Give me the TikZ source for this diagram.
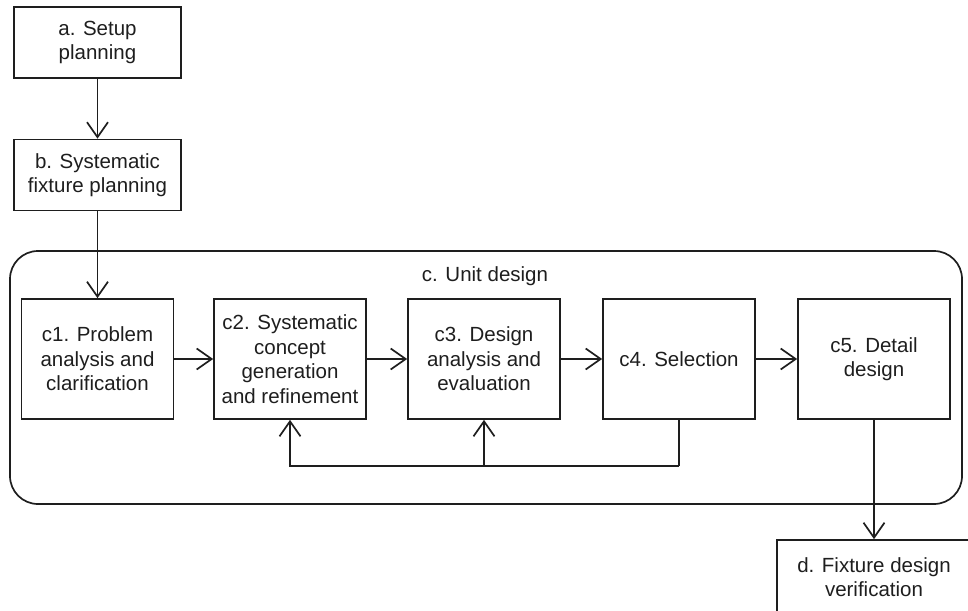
\documentclass[tikz,border=0pt]{standalone}
\usepackage{fontspec}
\setmainfont{Liberation Sans}
\usetikzlibrary{arrows.meta}
\definecolor{ink}{HTML}{1E1E1E}
\begin{document}
\begin{tikzpicture}[x=1pt,y=-1pt,
  line width=1.7pt, draw=ink,
  every node/.style={font=\fontsize{20.5}{24.5}\selectfont, text=ink, align=center, inner sep=0pt},
  stepbox/.style={draw=ink, line width=1.7pt, minimum width=152, minimum height=120},
  smallbox/.style={draw=ink, line width=1.7pt, minimum width=167, minimum height=71},
  flow/.style={-{Straight Barb[length=15pt,width=21pt,line width=1.7pt]}}]
\useasboundingbox (0,0) rectangle (968,610);
\begin{scope}
\clip (0,0) rectangle (968,610);

% unit design container
\draw[rounded corners=28] (10,251) rectangle (962,504);
\node (clabel) at (485,276) {c. Unit design};

% planning steps
\node[smallbox] (a) at (97.5,42.5) {a. Setup\\planning};
\node[smallbox] (b) at (97.5,175) {b. Systematic\\fixture planning};

% unit design steps
\node[stepbox] (c1) at (97.5,359) {c1. Problem\\analysis and\\clarification};
\node[stepbox] (c2) at (290,359) {c2. Systematic\\concept\\generation\\and refinement};
\node[stepbox] (c3) at (484,359) {c3. Design\\analysis and\\evaluation};
\node[stepbox] (c4) at (679,359) {c4. Selection};
\node[stepbox] (c5) at (874,359) {c5. Detail\\design};

% verification (runs past the page edge)
\node[draw=ink, line width=1.7pt, minimum width=200, minimum height=80, text depth=0pt] (d) at (877,580) {};
\node (dtext) at (874,577) {d. Fixture design\\verification};

% main flow
\draw[flow] (a) -- (b);
\draw[flow] (b) -- (c1);
\draw[flow] (c1) -- (c2);
\draw[flow] (c2) -- (c3);
\draw[flow] (c3) -- (c4);
\draw[flow] (c4) -- (c5);
\draw[flow] (c5.south) -- (c5.south |- d.north);

% feedback loop from selection
\coordinate (fb) at (679,466);
\draw (c4.south) -- (fb);
\draw[flow] (fb) -| (c2.south);
\draw[flow] (c3.south |- fb) -- (c3.south);
\end{scope}
\end{tikzpicture}
\end{document}
